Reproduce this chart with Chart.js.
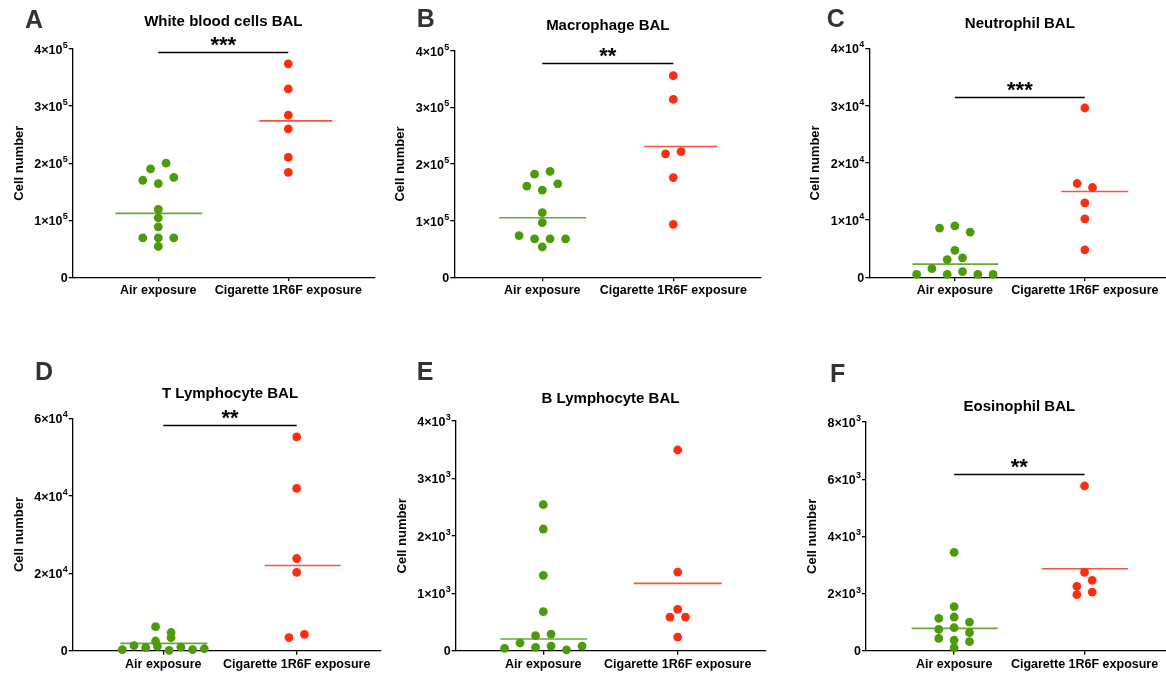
<!DOCTYPE html>
<html>
<head>
<meta charset="utf-8">
<script src="https://cdn.jsdelivr.net/npm/chart.js@4.4.1/dist/chart.umd.min.js"></script>
<style>
  html, body { margin: 0; padding: 0; background: #fff; }
  body { width: 1166px; height: 673px; position: relative; overflow: hidden; }
  .panel { position: absolute; }
</style>
</head>
<body>
<div class="panel" style="left:0px;top:0px"><canvas id="cA" width="390" height="310"></canvas></div>
<div class="panel" style="left:390px;top:0px"><canvas id="cB" width="390" height="310"></canvas></div>
<div class="panel" style="left:775px;top:0px"><canvas id="cC" width="400" height="310"></canvas></div>
<div class="panel" style="left:0px;top:355px"><canvas id="cD" width="390" height="318"></canvas></div>
<div class="panel" style="left:390px;top:355px"><canvas id="cE" width="390" height="318"></canvas></div>
<div class="panel" style="left:775px;top:355px"><canvas id="cF" width="400" height="318"></canvas></div>
<script>
// ---- data ----
const categories = ['Air exposure', 'Cigarette 1R6F exposure'];
const panelLetters = ['A', 'B', 'C', 'D', 'E', 'F'];
const panelTitles = ['White blood cells BAL', 'Macrophage BAL', 'Neutrophil BAL',
                     'T Lymphocyte BAL', 'B Lymphocyte BAL', 'Eosinophil BAL'];

const wbcAir = [190000, 200000, 170000, 164000, 175000, 119000, 104000, 88500, 69000, 69000, 69000, 54000];
const wbcCig = [374000, 330000, 284000, 260000, 210000, 184000];
const macAir = [182000, 187000, 161000, 154000, 165000, 114000, 96500, 73500, 68000, 68000, 68000, 53500];
const macCig = [356000, 314000, 218000, 222000, 176000, 93500];
const neuAir = [8600, 9000, 7900, 4720, 3100, 3380, 500, 1500, 500, 1000, 500, 500];
const neuCig = [29600, 16400, 15700, 13000, 10200, 4800];
const tlyAir = [6200, 4700, 2500, 3400, 260, 1300, 800, 1100, 100, 900, 260, 500];
const tlyCig = [55200, 41900, 23800, 20200, 3400, 4200];
const blyAir = [2543, 2119, 1312, 679, 261, 290, 41, 134, 58, 81, 15, 81];
const blyCig = [3495, 1370, 720, 586, 586, 238];
const eosAir = [3440, 1539, 1131, 1178, 1003, 746, 805, 630, 431, 373, 315, 105];
const eosCig = [5761, 2740, 2251, 2461, 1959, 2052];

// horizontal centre lines
const lineAir = [112000, 105000, 2300, 1900, 203, 781];
const lineCig = [274000, 231000, 15000, 22000, 1173, 2869];

// y axes
const yMaxes = [4e5, 4e5, 4e4, 6e4, 4e3, 8e3];
const ySteps = [1e5, 1e5, 1e4, 2e4, 1e3, 2e3];
const yExps = [5, 5, 4, 4, 3, 3];

// significance
const sigMarks = ['***', '**', '***', '**', '', '**'];
const sigLevels = [394000, 377600, 31600, 58300, null, 6170];

const airSeries = [wbcAir, macAir, neuAir, tlyAir, blyAir, eosAir];
const cigSeries = [wbcCig, macCig, neuCig, tlyCig, blyCig, eosCig];

// ---- layout (page pixels) ----
// canvas [left, top, w, h], plot [axisX, topY, rightX, zeroY], category centres, text positions
const layout = [
  {canvas: [0, 0, 390, 310],   plot: [72.7, 49, 375, 277.3],     cats: [158.3, 288.3], letter: [25, 28.3],    titleY: 25.5,  redLeft: 29},
  {canvas: [390, 0, 390, 310], plot: [454.3, 50.7, 760.7, 277.3], cats: [542.3, 673.3], letter: [416.7, 26.7], titleY: 29.5,  redLeft: 29},
  {canvas: [775, 0, 400, 310], plot: [869.3, 48.5, 1174.6, 277.3], cats: [956, 1087.7], letter: [826.7, 26.7], titleY: 27.8,  redLeft: 24},
  {canvas: [0, 355, 390, 318], plot: [72.7, 418.3, 381, 650.7],   cats: [163.3, 296.7], letter: [35, 380],     titleY: 397.8, redLeft: 32},
  {canvas: [390, 355, 390, 318], plot: [455.7, 421, 766, 650.7],  cats: [543.3, 677.7], letter: [416.7, 380],  titleY: 403.2, redLeft: 44},
  {canvas: [775, 355, 400, 318], plot: [866, 422, 1173.6, 650.7], cats: [955, 1086.7], letter: [830, 381.7],   titleY: 411.2, redLeft: 43}
];

const FONT = '"Liberation Sans", Arial, Helvetica, sans-serif';
const GREEN = '#4d9a0a';
const RED = '#fd2d12';
const GREEN_LINE = '#6aa83a';
const RED_LINE = '#f65540';
const Y_SCALE_W = 61.2;
const X_SCALE_H = 20;
const DOT_STEP = 15.5;   // px between neighbours in a row
const MAX_HALF = 41;     // px, widest half-row
const ROW_GAP = 7.5;     // px, values closer than this share a row

Chart.defaults.font.family = FONT;
Chart.defaults.color = '#000';

// spread dots of one group sideways, row by row (scatter dot plot)
function swarm(values, center, pxPerX, pxPerY) {
  const order = values.map((v, i) => i).sort((a, b) => values[b] - values[a]);
  const rows = [];
  let row = null;
  order.forEach(i => {
    if (!row || (values[row[0]] - values[i]) * pxPerY > ROW_GAP) {
      row = [i];
      rows.push(row);
    } else {
      row.push(i);
    }
  });
  const pts = [];
  rows.forEach(r => {
    r.sort((a, b) => a - b);
    const step = r.length > 1 ? Math.min(DOT_STEP, 2 * MAX_HALF / (r.length - 1)) : 0;
    r.forEach((i, k) => {
      pts.push({x: center + (k - (r.length - 1) / 2) * step / pxPerX, y: values[i]});
    });
  });
  return pts;
}

// letter, title, y tick labels with superscript powers, significance bar
const panelText = {
  id: 'panelText',
  afterDraw(chart, args, opts) {
    const {ctx} = chart;
    const x = chart.scales.x, y = chart.scales.y;
    ctx.save();
    ctx.textBaseline = 'alphabetic';
    ctx.fillStyle = '#333';
    ctx.textAlign = 'left';
    ctx.font = 'bold 25px ' + FONT;
    ctx.fillText(opts.letter, opts.letterX, opts.letterY);

    ctx.fillStyle = '#000';
    ctx.textAlign = 'center';
    ctx.font = 'bold 15px ' + FONT;
    ctx.fillText(opts.title, x.getPixelForValue(1.5), opts.titleY);

    // y tick labels: "n×10" + raised exponent
    ctx.textAlign = 'right';
    ctx.textBaseline = 'middle';
    const xr = y.right - 5;
    y.ticks.forEach(t => {
      const py = y.getPixelForValue(t.value);
      if (t.value === 0) {
        ctx.font = 'bold 12.5px ' + FONT;
        ctx.fillText('0', xr, py + 1);
        return;
      }
      const sup = String(opts.exp);
      ctx.font = 'bold 9px ' + FONT;
      const sw = ctx.measureText(sup).width;
      ctx.fillText(sup, xr, py - 3.5);
      ctx.font = 'bold 12.5px ' + FONT;
      ctx.fillText((t.value / Math.pow(10, opts.exp)) + '\u00D710', xr - sw - 0.3, py + 1.5);
    });

    if (opts.mark) {
      const yy = Math.round(y.getPixelForValue(opts.level)) + 0.5;
      ctx.beginPath();
      ctx.moveTo(x.getPixelForValue(1), yy);
      ctx.lineTo(x.getPixelForValue(2), yy);
      ctx.lineWidth = 1.3;
      ctx.strokeStyle = '#000';
      ctx.stroke();
      ctx.textAlign = 'center';
      ctx.textBaseline = 'alphabetic';
      ctx.font = 'bold 22px ' + FONT;
      ctx.fillText(opts.mark, x.getPixelForValue(1.5), yy - 1);
    }
    ctx.restore();
  }
};

function makePanel(p) {
  const L = layout[p];
  const [cx, cy, cw, ch] = L.canvas;
  const [left, top, right, bottom] = L.plot;
  const [airX, cigX] = L.cats;
  const spacing = cigX - airX;
  const xMin = 1 - (airX - left) / spacing;
  const xMax = 2 + (right - cigX) / spacing;
  const pxPerX = spacing;
  const pxPerY = (bottom - top) / yMaxes[p];

  const airPts = swarm(airSeries[p], 1, pxPerX, pxPerY);
  const cigPts = swarm(cigSeries[p], 2, pxPerX, pxPerY);
  const airLine = [{x: 1 - 43 / pxPerX, y: lineAir[p]}, {x: 1 + 44 / pxPerX, y: lineAir[p]}];
  const cigLine = [{x: 2 - L.redLeft / pxPerX, y: lineCig[p]}, {x: 2 + 44 / pxPerX, y: lineCig[p]}];

  const dots = {pointRadius: 4.4, pointHoverRadius: 4.4, borderWidth: 0, clip: false};
  const lines = {showLine: true, pointRadius: 0, borderWidth: 1.6, clip: false};

  new Chart(document.getElementById('c' + panelLetters[p]), {
    type: 'scatter',
    data: {
      datasets: [
        Object.assign({label: categories[0], data: airPts, backgroundColor: GREEN}, dots),
        Object.assign({label: categories[1], data: cigPts, backgroundColor: RED}, dots),
        Object.assign({label: 'air centre', data: airLine, borderColor: GREEN_LINE}, lines),
        Object.assign({label: 'cig centre', data: cigLine, borderColor: RED_LINE}, lines)
      ]
    },
    options: {
      responsive: false,
      devicePixelRatio: 1,
      animation: false,
      events: [],
      layout: {
        padding: {
          left: left - Y_SCALE_W - cx,
          top: top - cy,
          right: cx + cw - right,
          bottom: cy + ch - bottom - X_SCALE_H
        }
      },
      scales: {
        x: {
          type: 'linear',
          min: xMin,
          max: xMax,
          afterBuildTicks: s => { s.ticks = [{value: 1}, {value: 2}]; },
          afterFit: s => { s.height = X_SCALE_H; },
          ticks: {
            callback: v => categories[v - 1],
            autoSkip: false,
            maxRotation: 0,
            minRotation: 0,
            padding: 2,
            color: '#000',
            font: {size: 12.5, weight: 'bold'}
          },
          grid: {drawOnChartArea: false, tickLength: 4, color: '#000', lineWidth: 1.3},
          border: {color: '#000', width: 1.3}
        },
        y: {
          min: 0,
          max: yMaxes[p],
          afterFit: s => { s.width = Y_SCALE_W; },
          ticks: {stepSize: ySteps[p], display: false},
          grid: {drawOnChartArea: false, tickLength: 4, color: '#000', lineWidth: 1.3},
          border: {color: '#000', width: 1.3},
          title: {display: true, text: 'Cell number', color: '#000', padding: 0,
                  font: {size: 13, weight: 'bold'}}
        }
      },
      plugins: {
        legend: {display: false},
        tooltip: {enabled: false},
        panelText: {
          letter: panelLetters[p],
          letterX: L.letter[0] - cx,
          letterY: L.letter[1] - cy,
          title: panelTitles[p],
          titleY: L.titleY - cy,
          exp: yExps[p],
          mark: sigMarks[p],
          level: sigLevels[p]
        }
      }
    },
    plugins: [panelText]
  });
}

for (let p = 0; p < 6; p++) makePanel(p);
</script>
</body>
</html>
